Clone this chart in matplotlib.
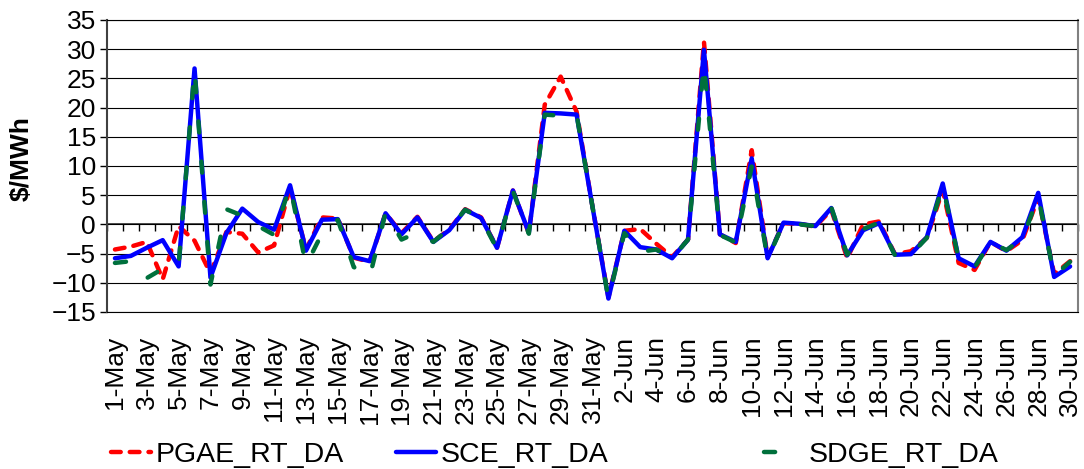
import numpy as np
import matplotlib.pyplot as plt
from matplotlib.lines import Line2D

plt.rcParams['font.family'] = ['Liberation Sans', 'DejaVu Sans']
plt.rcParams['lines.scale_dashes'] = False

# categories: daily, 1-May .. 30-Jun
days = [f"{d}-May" for d in range(1, 32)] + [f"{d}-Jun" for d in range(1, 31)]

# RT - DA price spread, $/MWh
pgae = [-4.3, -3.8, -3.0, -9.4, -0.3, -2.8, -8.4, -1.3, -1.6, -4.8,
        -3.6, 6.3, -4.3, 1.2, 1.0, -5.7, -6.4, 1.9, -1.5, 1.3,
        -2.9, -0.9, 2.6, 1.2, -4.0, 5.8, -1.5, 20.5, 25.3, 19.3,
        3.0, -12.5, -1.1, -0.8, -3.3, -5.6, -2.6, 31.3, -1.7, -3.2,
        12.7, -5.6, 0.2, 0.1, -0.4, 2.5, -5.8, 0.0, 0.5, -5.1,
        -4.6, -2.3, 5.9, -6.6, -7.8, -3.0, -4.6, -2.7, 4.6, -8.5,
        -6.3]
sce = [-5.8, -5.4, -4.0, -2.7, -7.2, 26.7, -9.1, -1.5, 2.7, 0.4,
       -0.9, 6.7, -4.5, 0.8, 0.9, -5.6, -6.3, 1.9, -1.7, 1.2,
       -3.0, -1.0, 2.5, 1.1, -4.0, 5.8, -1.4, 19.1, 19.0, 18.8,
       3.0, -12.7, -1.1, -3.9, -4.3, -5.8, -2.6, 29.9, -1.7, -3.0,
       11.3, -5.8, 0.3, 0.1, -0.3, 2.8, -5.3, -1.0, 0.2, -5.2,
       -5.1, -2.2, 7.0, -5.8, -7.2, -3.0, -4.5, -2.2, 5.4, -9.0,
       -7.2]
sdge = [-6.6, -6.3, -9.2, -7.6, -7.0, 26.5, -10.3, 2.6, 1.5, -0.3,
        -1.8, 6.6, -7.0, -1.6, 0.8, -7.3, -9.0, 2.0, -2.6, -1.4,
        -3.0, -0.7, 2.5, 1.0, -4.2, 5.7, -1.6, 18.8, 18.6, 18.8,
        3.0, -12.8, -1.5, -4.7, -4.3, -5.8, -2.6, 27.5, -1.8, -3.1,
        9.9, -5.9, 0.2, 0.0, -0.3, 2.9, -5.2, -0.8, 0.3, -5.3,
        -5.2, -2.3, 6.6, -5.9, -7.4, -3.0, -4.4, -2.5, 4.7, -8.8,
        -6.4]

names = ['PGAE_RT_DA', 'SCE_RT_DA', 'SDGE_RT_DA']
colors = ['#FF0000', '#0000FF', '#00703C']
styles = [(0, (7, 6.5)), '-', (0, (8, 7, 0, 7, 0, 7))]

fs = 19

fig = plt.figure(figsize=(10.84, 4.69), dpi=100)
ax = fig.add_axes([0.0987, 0.3348, 0.8958, 0.6226])

x = np.arange(len(days))
lines = []
for vals, c, ls, name in zip([pgae, sce, sdge], colors, styles, names):
    ln, = ax.plot(x, vals, color=c, lw=3.2, ls=ls, dash_capstyle='round',
                  solid_capstyle='round', solid_joinstyle='round', label=name)
    lines.append(ln)

ax.set_xlim(-0.5, len(days) - 0.5)
ax.set_ylim(-15, 35)
ax.set_yticks(range(-15, 40, 5))
ax.yaxis.grid(True, color='black', lw=0.8)
ax.set_axisbelow(True)
ax.tick_params(axis='y', direction='out', length=5, width=1, pad=3, labelsize=fs)

ax.set_xticks(x[::2])
ax.set_xticklabels(days[::2], rotation=90)
ax.tick_params(axis='x', length=0, pad=17, labelsize=fs)

for side in ['left', 'right']:
    ax.spines[side].set_linewidth(1.5)
ax.spines['left'].set_color('#404040')
ax.spines['right'].set_color('#808080')
ax.spines['top'].set_linewidth(0.8)
ax.spines['bottom'].set_linewidth(0.8)

# category axis crosses at zero, with tick marks between categories
zero = ax.secondary_xaxis(15 / 50)
zero.set_xticks(np.arange(-0.5, len(days), 1))
zero.tick_params(axis='x', direction='out', length=5, width=1, labelbottom=False)
zero.spines['bottom'].set_linewidth(1.2)
zero.spines['bottom'].set_color('#303030')

fig.text(0.020, 0.661, '$/MWh', rotation=90, ha='center', va='center',
         fontsize=fs, fontweight='bold')

# legend entries spread like the original
for ln, xpos in zip(lines, [0.1024, 0.3653, 0.7048]):
    fig.legend(handles=[ln], loc='center left', bbox_to_anchor=(xpos, 0.0299),
               frameon=False, fontsize=20.5, borderpad=0, borderaxespad=0,
               handlelength=1.4, handletextpad=0.18)

fig.savefig('out.png', dpi=100)
